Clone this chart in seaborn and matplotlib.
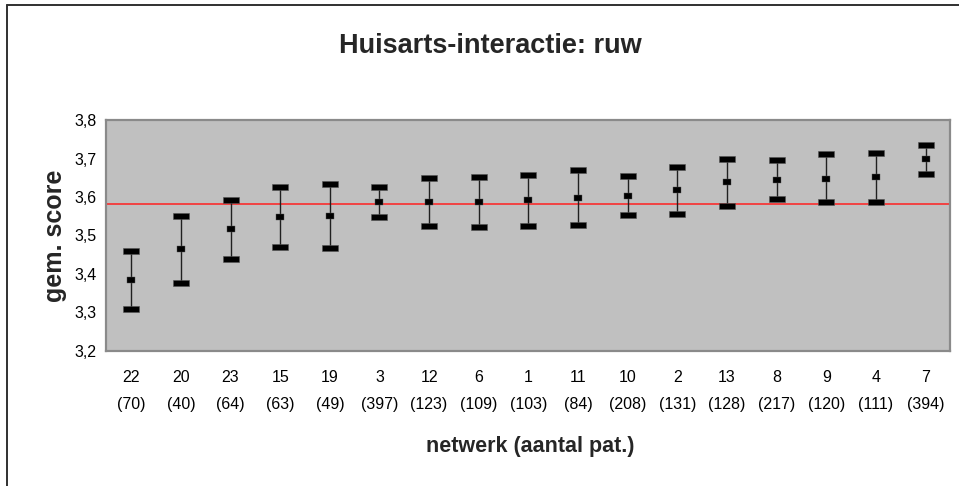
import numpy as np
import pandas as pd
import matplotlib
matplotlib.use("Agg")
import matplotlib.pyplot as plt
from matplotlib.path import Path
from matplotlib.lines import Line2D
import seaborn as sns

# data
netwerk = ['22', '20', '23', '15', '19', '3', '12', '6', '1', '11', '10', '2', '13', '8', '9', '4', '7']
aantal = [70, 40, 64, 63, 49, 397, 123, 109, 103, 84, 208, 131, 128, 217, 120, 111, 394]
gem = [3.384, 3.464, 3.516, 3.547, 3.550, 3.586, 3.587, 3.588, 3.592, 3.597,
       3.603, 3.617, 3.638, 3.645, 3.648, 3.651, 3.698]
onder = [3.309, 3.376, 3.438, 3.470, 3.467, 3.547, 3.525, 3.522, 3.525, 3.528,
         3.552, 3.557, 3.577, 3.595, 3.586, 3.587, 3.660]
boven = [3.459, 3.551, 3.592, 3.625, 3.634, 3.625, 3.649, 3.653, 3.657, 3.669,
         3.654, 3.678, 3.698, 3.695, 3.711, 3.715, 3.736]
gemiddelde_totaal = 3.583
y_ticks = [3.2, 3.3, 3.4, 3.5, 3.6, 3.7, 3.8]

labels = [f"{a}\n({b})" for a, b in zip(netwerk, aantal)]
df = pd.DataFrame({'label': labels, 'gem': gem, 'onder': onder, 'boven': boven})

sns.set_style('white')
plt.rcParams['font.family'] = ['Liberation Sans', 'DejaVu Sans']

fig = plt.figure(figsize=(9.59, 4.86), dpi=100)
ax = fig.add_axes([0.111, 0.278, 0.880, 0.475])
ax.set_facecolor('#c0c0c0')

# flat rectangles as markers (caps and mean)
cap = Path([(-1, -0.34), (1, -0.34), (1, 0.34), (-1, 0.34), (-1, -0.34)],
           [Path.MOVETO, Path.LINETO, Path.LINETO, Path.LINETO, Path.CLOSEPOLY])
mid = Path([(-1, -0.6), (1, -0.6), (1, 0.6), (-1, 0.6), (-1, -0.6)],
           [Path.MOVETO, Path.LINETO, Path.LINETO, Path.LINETO, Path.CLOSEPOLY])

ax.axhline(gemiddelde_totaal, color='#ff2020', lw=1.1, zorder=1)
ax.vlines(df['label'], df['onder'], df['boven'], color='#202020', lw=1.0, zorder=2)
sns.scatterplot(data=df, x='label', y='onder', marker=cap, s=135, color='black',
                edgecolor='#555555', linewidth=0.4, ax=ax, zorder=3)
sns.scatterplot(data=df, x='label', y='boven', marker=cap, s=135, color='black',
                edgecolor='#555555', linewidth=0.4, ax=ax, zorder=3)
sns.scatterplot(data=df, x='label', y='gem', marker=mid, s=40, color='black',
                edgecolor='#555555', linewidth=0.3, ax=ax, zorder=4)

ax.set_xlim(-0.5, len(labels) - 0.5)
ax.set_ylim(3.2, 3.8)
ax.set_yticks(y_ticks)
ax.set_yticklabels([f"{v:.1f}".replace('.', ',') for v in y_ticks])
ax.tick_params(axis='both', length=0, labelsize=11.5, colors='black')
ax.tick_params(axis='y', pad=7)
ax.tick_params(axis='x', pad=14)
for t in ax.get_xticklabels():
    t.set_linespacing(2.0)
ax.set_xlabel('')
ax.set_ylabel('')
for sp in ax.spines.values():
    sp.set_visible(True)
    sp.set_color('#8a8a8a')
    sp.set_linewidth(1.6)

fig.text(490 / 959, 1 - 53 / 486, 'Huisarts-interactie: ruw', ha='center', va='baseline',
         fontsize=19.5, fontweight='bold')
fig.text(55 / 959, 1 - 236 / 486, 'gem. score', rotation=90, ha='center', va='center',
         fontsize=18, fontweight='bold')
fig.text(530 / 959, 1 - 446 / 486, 'netwerk (aantal pat.)', ha='center', va='center',
         fontsize=15.5, fontweight='bold')

# outer chart frame (top and left edges visible)
fig.add_artist(Line2D([7 / 959, 1.0], [1 - 5 / 486, 1 - 5 / 486], color='#303030', lw=1.4))
fig.add_artist(Line2D([7 / 959, 7 / 959], [0.0, 1 - 5 / 486], color='#303030', lw=1.4))

fig.savefig('out.png', dpi=100)
